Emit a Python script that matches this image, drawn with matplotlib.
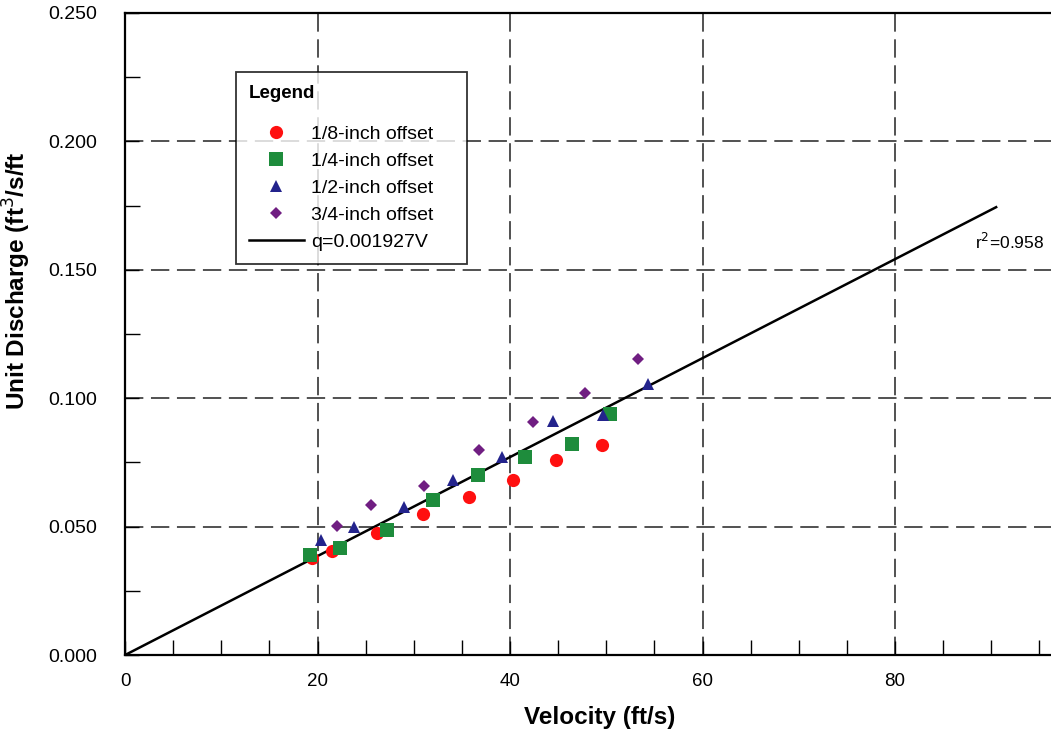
import matplotlib
matplotlib.use("Agg")
import matplotlib.pyplot as plt
from matplotlib.ticker import MultipleLocator, FormatStrFormatter

plt.rcParams['font.family'] = ['Liberation Sans', 'DejaVu Sans']

# Data
v_eighth = [19.4, 21.5, 26.2, 31.0, 35.7, 40.3, 44.8, 49.5]
q_eighth = [0.0377, 0.0406, 0.0475, 0.0550, 0.0615, 0.0683, 0.0761, 0.0819]

v_quarter = [19.2, 22.3, 27.2, 32.0, 36.7, 41.6, 46.4, 50.4]
q_quarter = [0.0390, 0.0416, 0.0488, 0.0605, 0.0702, 0.0771, 0.0820, 0.0939]

v_half = [20.4, 23.8, 29.0, 34.1, 39.2, 44.5, 49.7, 54.3]
q_half = [0.0449, 0.0500, 0.0578, 0.0683, 0.0773, 0.0913, 0.0933, 0.1057]

v_threeq = [22.0, 25.6, 31.1, 36.8, 42.4, 47.8, 53.3]
q_threeq = [0.0503, 0.0585, 0.0659, 0.0800, 0.0906, 0.1021, 0.1151]

slope = 0.001927
fit_v = [0.0, 90.5]
r2_label = "r$^2$=0.958"

fig = plt.figure(figsize=(10.51, 7.30), dpi=100)
ax = fig.add_axes([0.119, 0.1027, 0.881, 0.8795])

ax.set_xlim(0, 96.2)
ax.set_ylim(0, 0.25)

dash = (0, (12, 5))
for gx in [20, 40, 60, 80]:
    ax.axvline(gx, color='#222222', linestyle=dash, linewidth=1.1, zorder=0)
for gy in [0.05, 0.10, 0.15, 0.20]:
    ax.axhline(gy, color='#222222', linestyle=dash, linewidth=1.1, zorder=0)

fit_q = [slope * v for v in fit_v]
line, = ax.plot(fit_v, fit_q, color='black', linewidth=1.8, label='q=0.001927V', zorder=2)

h1, = ax.plot(v_eighth, q_eighth, linestyle='none', marker='o', markersize=9.5,
              color='#ff1010', markeredgewidth=0, label='1/8-inch offset', zorder=3)
h2, = ax.plot(v_quarter, q_quarter, linestyle='none', marker='s', markersize=9.5,
              color='#1e8c3c', markeredgewidth=0, label='1/4-inch offset', zorder=3)
h3, = ax.plot(v_half, q_half, linestyle='none', marker='^', markersize=9,
              color='#23238c', markeredgewidth=0, label='1/2-inch offset', zorder=3)
h4, = ax.plot(v_threeq, q_threeq, linestyle='none', marker='D', markersize=6.5,
              color='#701e82', markeredgewidth=0, label='3/4-inch offset', zorder=3)

ax.text(88.3, 0.1607, r2_label, fontsize=12.5, va='center', ha='left')

ax.xaxis.set_major_locator(MultipleLocator(20))
ax.xaxis.set_minor_locator(MultipleLocator(5))
ax.yaxis.set_major_locator(MultipleLocator(0.05))
ax.yaxis.set_minor_locator(MultipleLocator(0.025))
ax.yaxis.set_major_formatter(FormatStrFormatter('%.3f'))

ax.tick_params(which='both', direction='in', colors='black')
ax.tick_params(which='major', length=10, width=1)
ax.tick_params(which='minor', length=11, width=1)
ax.tick_params(axis='x', labelsize=13.5, pad=13)
ax.tick_params(axis='y', labelsize=14, pad=20)

ax.spines['right'].set_visible(False)
for s in ['left', 'bottom', 'top']:
    ax.spines[s].set_linewidth(1.6)

ax.set_xlabel('Velocity (ft/s)', fontsize=17.5, fontweight='bold')
ax.xaxis.set_label_coords((600 - 125) / 925.8, -(706 - 655) / 642)
ax.set_ylabel('Unit Discharge (ft$^3$/s/ft', fontsize=17.5, fontweight='bold')
ax.yaxis.set_label_coords(-(125 - 33) / 925.8, (655 - 281) / 642)

leg = fig.legend(handles=[h1, h2, h3, h4, line], loc='upper left',
                 bbox_to_anchor=(0.2245, 0.634, 0.2195, 0.267), mode='expand',
                 borderaxespad=0, frameon=True, fancybox=False, edgecolor='black',
                 fontsize=14, title='Legend',
                 title_fontproperties={'weight': 'bold', 'size': 13.5},
                 alignment='left', markerscale=1.0, handlelength=2.85,
                 labelspacing=0.48, borderpad=0.65, handletextpad=0.36)
leg._legend_box.sep = 17
leg.get_frame().set_linewidth(1.3)

fig.savefig('out.png', dpi=100)
